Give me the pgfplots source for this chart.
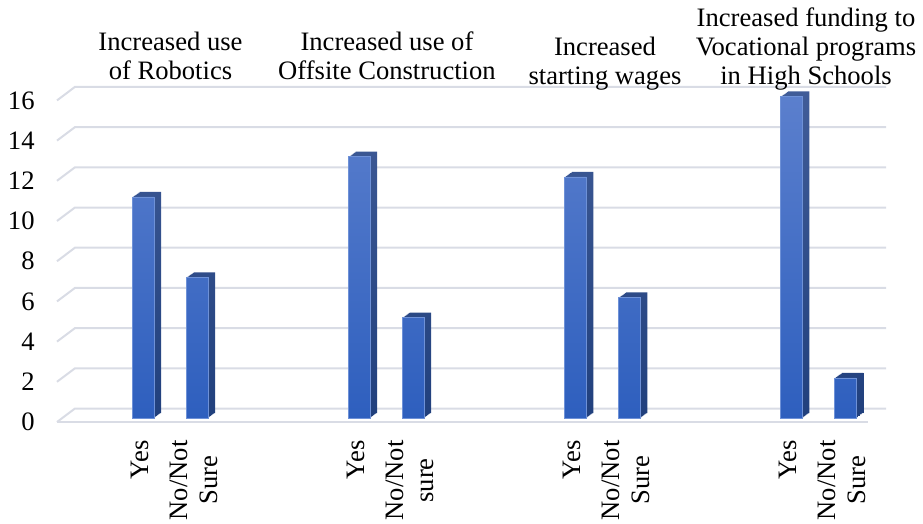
\documentclass[border=0pt]{standalone}
\usepackage{fontspec}
\setmainfont{Liberation Serif}
\usepackage{pgfplots}
\pgfplotsset{compat=1.18}
\usepackage{pgfplotstable}

\definecolor{gridc}{RGB}{217,220,229}
\definecolor{frontTop}{RGB}{91,127,205}
\definecolor{frontBot}{RGB}{46,95,190}
\definecolor{frontEdge}{RGB}{110,145,215}
\definecolor{sideTop}{RGB}{64,92,152}
\definecolor{sideBot}{RGB}{33,64,125}

% survey answers: position on the category axis and number of responses
\pgfplotstableread{
pos value
0 11
1 7
4 13
5 5
8 12
9 6
12 16
13 2
}\responses

\begin{document}
\begin{tikzpicture}[font=\fontsize{13.3}{15}\selectfont]
\begin{axis}[
  x=27pt, y=10.05pt,
  xmin=-1.602, xmax=13.75, ymin=-0.25, ymax=16.5,
  clip=false,
  axis line style={draw=none},
  major tick length=0pt,
  ytick={-0.2,1.8,3.8,5.8,7.8,9.8,11.8,13.8,15.8},
  yticklabels={0,2,4,6,8,10,12,14,16},
  yticklabel style={inner sep=0pt, xshift=-11pt},
  xtick={-0.065,0.935,3.935,4.935,7.935,8.935,11.935,12.935},
  xticklabels={Yes,{No/Not\\Sure},Yes,{No/Not\\sure},Yes,{No/Not\\Sure},Yes,{No/Not\\Sure}},
  xticklabel style={yshift=-8.5pt, rotate=90, anchor=east, align=center, inner sep=0pt},
]
% floor and back-wall gridlines
\draw[gridc, line width=1pt] (axis cs:-1.602,-0.199) -- (axis cs:13.417,-0.199);
\pgfplotsinvokeforeach{0,2,4,6,8,10,12,14,16}{
  \draw[gridc, line width=1pt] (axis cs:-1.602,#1-0.199) -- (axis cs:-1.269,#1+0.473) -- (axis cs:13.75,#1+0.473);
}
% depth of the columns
\pgfplotsinvokeforeach{7,6,5,4,3,2,1}{
  \addplot[ybar, bar width=10.75pt, bar shift=0pt, draw=none,
    top color=sideTop, bottom color=sideBot,
    xshift=#1*0.5pt, yshift=#1*0.357pt, forget plot]
    table[x=pos, y=value] {\responses};
}
% front faces
\addplot[ybar, bar width=10.75pt, bar shift=0pt, draw=frontEdge, line width=0.3pt,
  top color=frontTop, bottom color=frontBot]
  table[x=pos, y=value] {\responses};

% group headings
\node[anchor=base] at (axis cs:0.5,18.308) {Increased use};
\node[anchor=base] at (axis cs:0.5,16.866) {of Robotics};
\node[anchor=base] at (axis cs:4.509,18.308) {Increased use of};
\node[anchor=base] at (axis cs:4.509,16.866) {Offsite Construction};
\node[anchor=base] at (axis cs:8.546,18.06) {Increased};
\node[anchor=base] at (axis cs:8.546,16.617) {starting wages};
\node[anchor=base] at (axis cs:12.269,19.50) {Increased funding to};
\node[anchor=base] at (axis cs:12.269,18.06) {Vocational programs};
\node[anchor=base] at (axis cs:12.269,16.617) {in High Schools};

\coordinate (sw) at (axis cs:-2.657,-5.224);
\coordinate (ne) at (axis cs:14.435,20.796);
\end{axis}
\pgfresetboundingbox
\useasboundingbox (sw) rectangle (ne);
\end{tikzpicture}
\end{document}
